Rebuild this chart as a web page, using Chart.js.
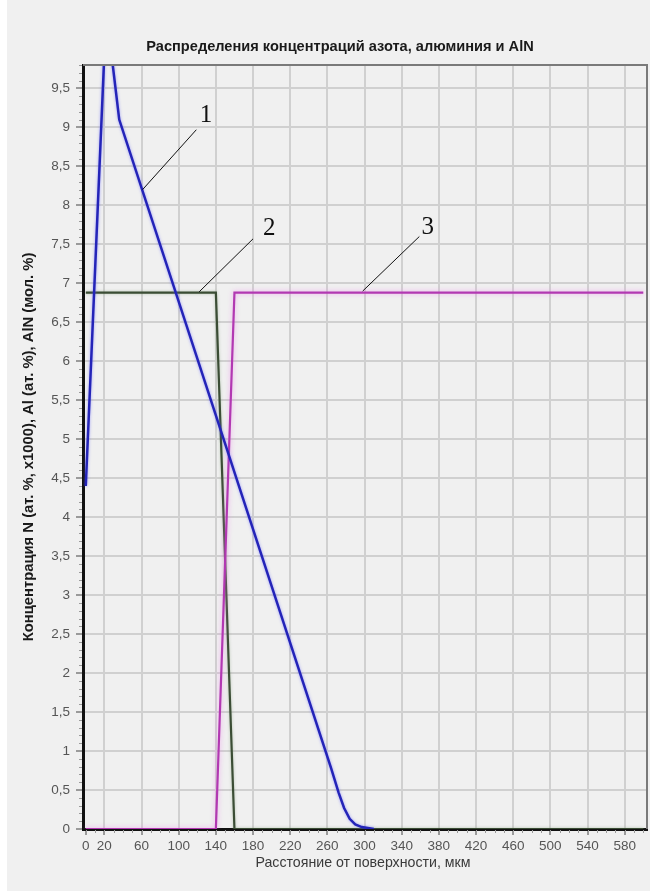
<!DOCTYPE html>
<html>
<head>
<meta charset="utf-8">
<script src="https://cdn.jsdelivr.net/npm/chart.js@4.4.0/dist/chart.umd.min.js"></script>
<style>
  html, body { margin: 0; padding: 0; background: #ffffff; }
  #wrap { position: relative; width: 650px; height: 891px; }
</style>
</head>
<body>
<div id="wrap"><canvas id="c" width="650" height="891"></canvas></div>
<script>
// Texts
const titleText = 'Распределения концентраций азота, алюминия и AlN';
const xTitle = 'Расстояние от поверхности, мкм';
const yTitle = 'Концентрация N (ат. %, x1000), Al (ат. %), AlN (мол. %)';

// Tick values
const xTicks = [0, 20, 60, 100, 140, 180, 220, 260, 300, 340, 380, 420, 460, 500, 540, 580];
const yTicks = [0, 0.5, 1, 1.5, 2, 2.5, 3, 3.5, 4, 4.5, 5, 5.5, 6, 6.5, 7, 7.5, 8, 8.5, 9, 9.5];

// Curve 1: nitrogen (at. %, x1000)
const nitrogenX = [0, 22, 36, 264, 272, 278, 284, 290, 297, 310];
const nitrogenY = [4.4, 10.5, 9.1, 0.78, 0.47, 0.27, 0.13, 0.06, 0.025, 0];

// Curve 2: aluminium (at. %)
const aluminiumX = [0, 140, 160, 600];
const aluminiumY = [6.88, 6.88, 0, 0];

// Curve 3: AlN (mol. %)
const alnX = [0, 140, 160, 600];
const alnY = [0, 0, 6.88, 6.88];

// Numbered callouts: leader from (x0,y0) to (x1,y1), number at (tx,ty), all in data units
const callouts = [
  { text: '1', x0: 61, y0: 8.2, x1: 119, y1: 8.97, tx: 129.5, ty: 9.15 },
  { text: '2', x0: 122, y0: 6.89, x1: 180, y1: 7.57, tx: 197.5, ty: 7.7 },
  { text: '3', x0: 298, y0: 6.9, x1: 359, y1: 7.6, tx: 368, ty: 7.72 }
];

const toPoints = (xs, ys) => xs.map((x, i) => ({ x: x, y: ys[i] }));
const fmt = v => String(v).replace('.', ',');

const haloPlugin = {
  id: 'halo',
  beforeDatasetDraw(chart, args) {
    const ds = chart.data.datasets[args.index];
    chart.ctx.save();
    if (ds.halo) {
      chart.ctx.shadowColor = ds.halo;
      chart.ctx.shadowBlur = ds.haloBlur || 3;
    }
  },
  afterDatasetDraw(chart) {
    chart.ctx.restore();
  }
};

const decorPlugin = {
  id: 'decor',
  beforeDraw(chart) {
    const ctx = chart.ctx;
    ctx.save();
    ctx.fillStyle = '#ffffff';
    ctx.fillRect(0, 0, chart.width, chart.height);
    ctx.fillStyle = '#f0f0f0';
    ctx.fillRect(7, 0, chart.width - 7, chart.height);
    ctx.restore();
  },
  afterDatasetsDraw(chart) {
    const ctx = chart.ctx;
    const a = chart.chartArea;
    ctx.save();
    // top and right frame
    ctx.strokeStyle = '#7a7a7a';
    ctx.lineWidth = 2;
    ctx.beginPath();
    ctx.moveTo(a.left, a.top);
    ctx.lineTo(a.right, a.top);
    ctx.lineTo(a.right, a.bottom);
    ctx.stroke();
    ctx.restore();
  },
  afterDraw(chart) {
    const ctx = chart.ctx;
    const a = chart.chartArea;
    const xs = chart.scales.x, ys = chart.scales.y;
    ctx.save();

    // minor tick marks
    ctx.strokeStyle = '#9a9a9a';
    ctx.lineWidth = 1;
    ctx.beginPath();
    for (let v = 0; v <= 600; v += 10) {
      const px = Math.round(xs.getPixelForValue(v)) + 0.5;
      ctx.moveTo(px, a.bottom + 1);
      ctx.lineTo(px, a.bottom + 4);
    }
    for (let i = 0; i <= 98; i++) {
      const py = Math.round(ys.getPixelForValue(i / 10)) + 0.5;
      ctx.moveTo(a.left - 4, py);
      ctx.lineTo(a.left - 1, py);
    }
    ctx.stroke();

    // chart title
    ctx.fillStyle = '#1a1a1a';
    ctx.font = 'bold 14.6px "Liberation Sans", Arial, sans-serif';
    ctx.textAlign = 'center';
    ctx.textBaseline = 'middle';
    ctx.fillText(titleText, 340, 47);

    // x axis title
    ctx.fillStyle = '#3a3a3a';
    ctx.font = '14.2px "Liberation Sans", Arial, sans-serif';
    ctx.fillText(xTitle, (a.left + a.right) / 2 - 2, 863);

    // y axis title
    ctx.save();
    ctx.translate(29, (a.top + a.bottom) / 2);
    ctx.rotate(-Math.PI / 2);
    ctx.fillStyle = '#1a1a1a';
    ctx.font = 'bold 14.8px "Liberation Sans", Arial, sans-serif';
    ctx.fillText(yTitle, 0, 0);
    ctx.restore();

    // callouts
    ctx.strokeStyle = '#111111';
    ctx.lineWidth = 1;
    ctx.fillStyle = '#111111';
    ctx.font = '25px "Liberation Serif", "Times New Roman", serif';
    ctx.textAlign = 'center';
    ctx.textBaseline = 'middle';
    callouts.forEach(c => {
      ctx.beginPath();
      ctx.moveTo(xs.getPixelForValue(c.x0), ys.getPixelForValue(c.y0));
      ctx.lineTo(xs.getPixelForValue(c.x1), ys.getPixelForValue(c.y1));
      ctx.stroke();
      ctx.fillText(c.text, xs.getPixelForValue(c.tx), ys.getPixelForValue(c.ty));
    });
    ctx.restore();
  }
};

new Chart(document.getElementById('c').getContext('2d'), {
  type: 'line',
  data: {
    datasets: [
      { label: '1', data: toPoints(nitrogenX, nitrogenY), borderColor: '#2424b8', borderWidth: 2.5,
        halo: 'rgba(90,90,255,0.55)', pointRadius: 0, tension: 0, fill: false },
      { label: '3', data: toPoints(alnX, alnY), borderColor: '#b238b2', borderWidth: 2.2,
        halo: 'rgba(235,130,235,0.7)', haloBlur: 5, pointRadius: 0, tension: 0, fill: false },
      { label: '2', data: toPoints(aluminiumX, aluminiumY), borderColor: '#3b4d35', borderWidth: 2.2,
        halo: 'rgba(120,150,110,0.5)', pointRadius: 0, tension: 0, fill: false }
    ]
  },
  options: {
    responsive: false,
    animation: false,
    layout: { padding: { top: 65, right: 3, left: 0, bottom: 0 } },
    plugins: { legend: { display: false }, tooltip: { enabled: false }, title: { display: false } },
    scales: {
      x: {
        type: 'linear', min: -3, max: 604,
        afterBuildTicks: s => { s.ticks = xTicks.map(v => ({ value: v })); },
        afterFit: s => { s.height = 62; },
        grid: {
          color: c => (c.tick && c.tick.value === 0) ? 'rgba(0,0,0,0)' : '#d0d0d0',
          lineWidth: 2, tickLength: 6, tickColor: '#9a9a9a'
        },
        border: { color: '#111111', width: 3 },
        ticks: { color: '#555555', font: { family: 'Liberation Sans', size: 13.5 }, padding: 3,
                 maxRotation: 0, autoSkip: false, callback: v => fmt(v) }
      },
      y: {
        min: 0, max: 9.8,
        afterBuildTicks: s => { s.ticks = yTicks.map(v => ({ value: v })); },
        afterFit: s => { s.width = 83; },
        grid: {
          color: c => (c.tick && c.tick.value === 0) ? 'rgba(0,0,0,0)' : '#d0d0d0',
          lineWidth: 2, tickLength: 7, tickColor: '#9a9a9a'
        },
        border: { color: '#111111', width: 3 },
        ticks: { color: '#555555', font: { family: 'Liberation Sans', size: 13.5 }, padding: 6,
                 autoSkip: false, callback: v => fmt(v) }
      }
    }
  },
  plugins: [haloPlugin, decorPlugin]
});
</script>
</body>
</html>
